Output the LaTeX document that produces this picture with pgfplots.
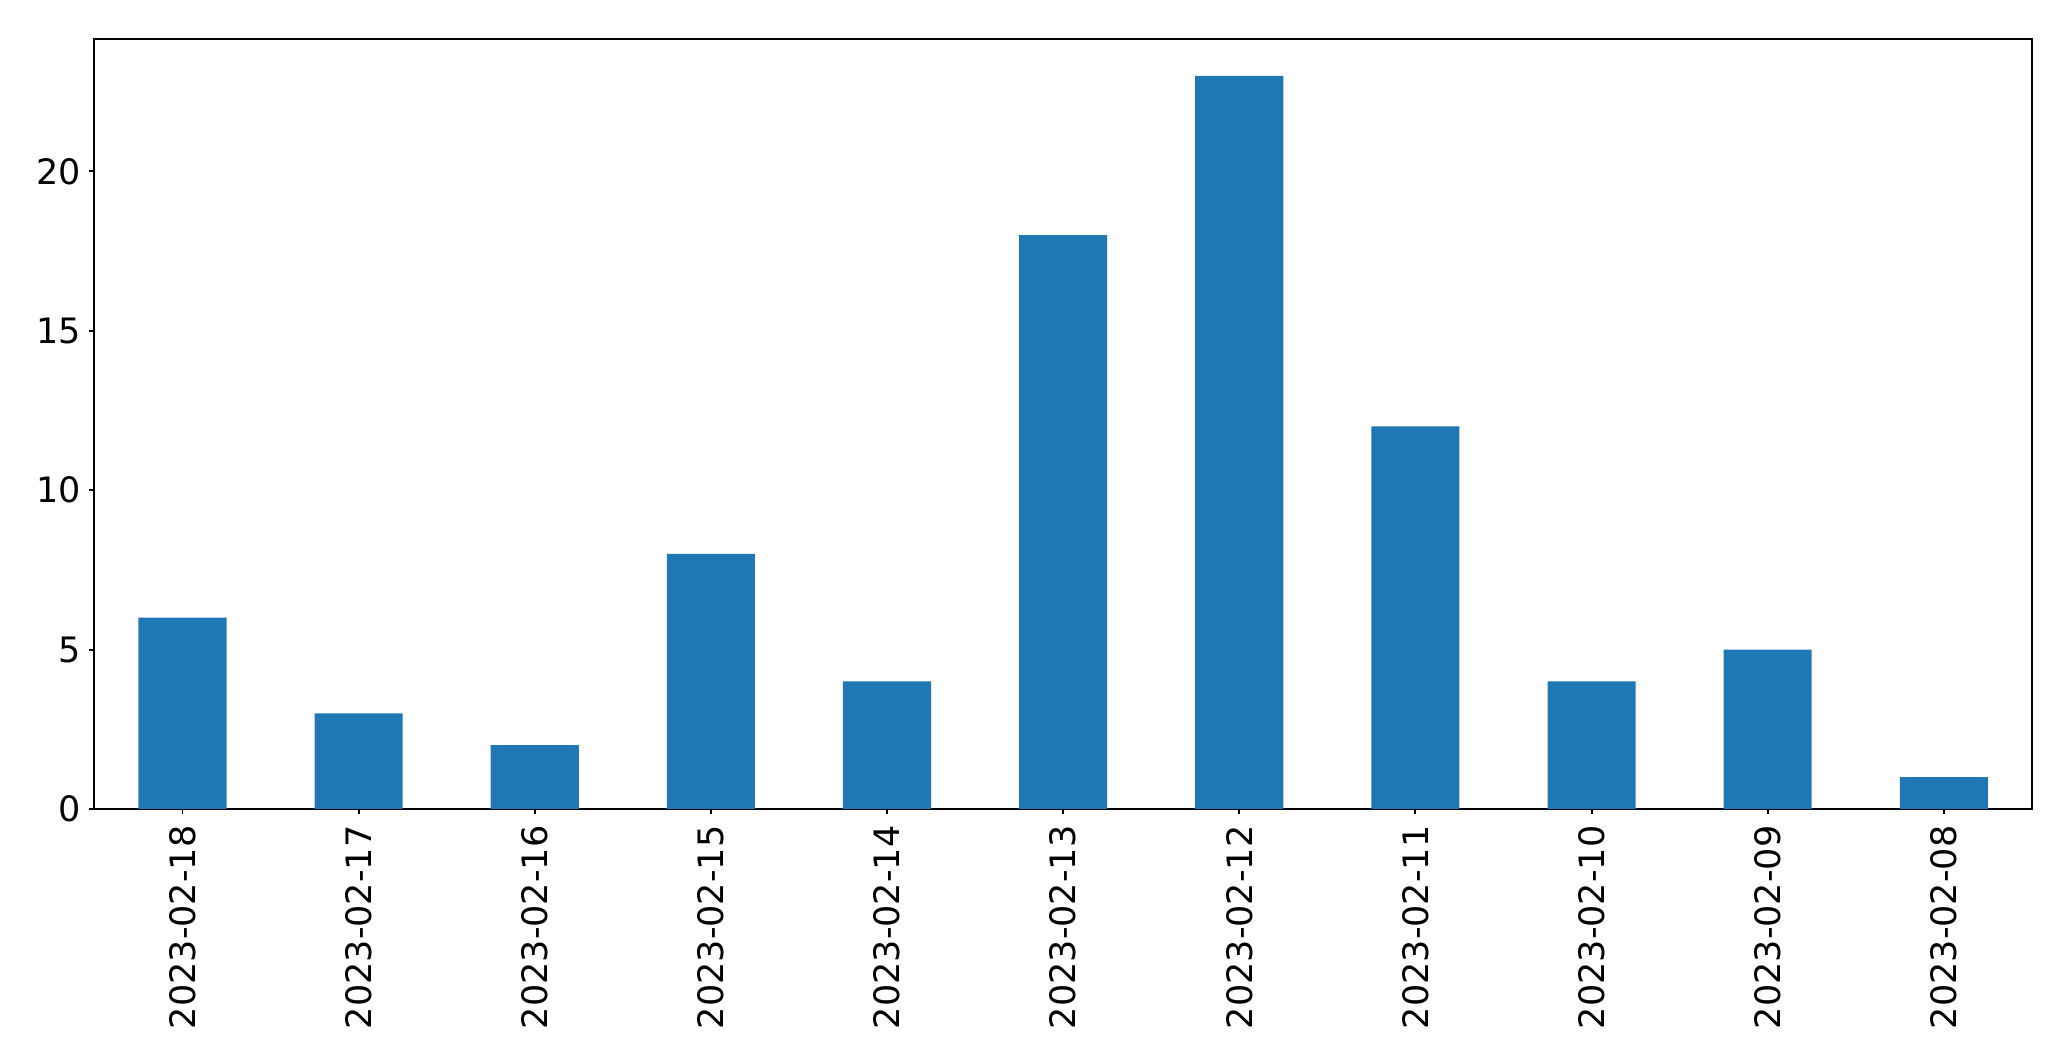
\documentclass[border=0pt]{standalone}
\usepackage{fontspec}
\setmainfont{DejaVu Sans}
\usepackage{pgfplots}
\pgfplotsset{compat=1.18}
\definecolor{mplblue}{HTML}{1F77B4}
\begin{document}
\fontsize{12.6bp}{15bp}\selectfont
\begin{tikzpicture}
\useasboundingbox (-34.0bp,-90.7bp) rectangle (711.5bp,291.2bp);
\begin{axis}[
  at={(0,0)}, anchor=south west,
  scale only axis,
  width=697.4bp, height=277.1bp,
  xmin=-0.5, xmax=10.5,
  ymin=0, ymax=24.15,
  axis line style={line width=0.7bp},
  tick style={black, line width=0.7bp},
  major tick length=1.8bp,
  tick align=outside,
  tick pos=left,
  xtick={0,1,2,3,4,5,6,7,8,9,10},
  xticklabels={2023-02-18,2023-02-17,2023-02-16,2023-02-15,2023-02-14,2023-02-13,2023-02-12,2023-02-11,2023-02-10,2023-02-09,2023-02-08},
  xticklabel style={rotate=90, anchor=east, inner sep=0pt, xshift=-4bp},
  ytick={0,5,10,15,20},
  yticklabel style={inner sep=0pt, xshift=-3bp},
  /pgf/number format/assume math mode=true,
  ticklabel style={font=\fontsize{12.6bp}{15bp}\selectfont},
  ybar, bar width=0.5,
]
\addplot[fill=mplblue, draw=none] coordinates {
(0,6) (1,3) (2,2) (3,8) (4,4) (5,18) (6,23) (7,12) (8,4) (9,5) (10,1)
};
\end{axis}
\end{tikzpicture}
\end{document}
